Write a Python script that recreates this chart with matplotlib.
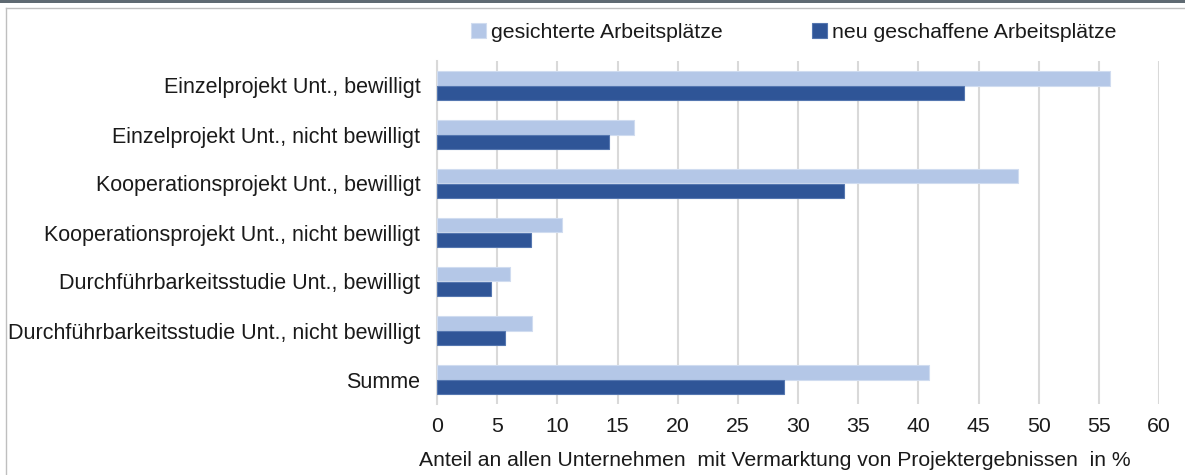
import matplotlib
matplotlib.use("Agg")
import matplotlib.pyplot as plt
import numpy as np
from matplotlib.patches import Rectangle
from matplotlib.lines import Line2D

categories = [
    "Einzelprojekt Unt., bewilligt",
    "Einzelprojekt Unt., nicht bewilligt",
    "Kooperationsprojekt Unt., bewilligt",
    "Kooperationsprojekt Unt., nicht bewilligt",
    "Durchführbarkeitsstudie Unt., bewilligt",
    "Durchführbarkeitsstudie Unt., nicht bewilligt",
    "Summe",
]
gesichert = [55.9, 16.4, 48.3, 10.4, 6.1, 7.9, 40.9]
neu = [43.8, 14.3, 33.8, 7.8, 4.5, 5.65, 28.8]
series_labels = ["gesichterte Arbeitsplätze", "neu geschaffene Arbeitsplätze"]
xticks = list(range(0, 61, 5))
xlabel = "Anteil an allen Unternehmen  mit Vermarktung von Projektergebnissen  in %"

plt.rcParams['font.family'] = ['Liberation Sans', 'DejaVu Sans']
light = "#B4C7E7"
dark = "#2F5597"
txt = "#1A1A1A"

fig = plt.figure(figsize=(11.85, 4.75), dpi=100)
ax = fig.add_axes([437/1185, 1-404/475, (1159-437)/1185, (404-61)/475])

y = np.arange(len(categories))
h = 0.29
ax.barh(y - h/2, gesichert, height=h, color=light, edgecolor="#D0DCF0", linewidth=0.8,
        label=series_labels[0], zorder=3)
ax.barh(y + h/2, neu, height=h, color=dark, edgecolor="#5577B0", linewidth=0.8,
        label=series_labels[1], zorder=3)

ax.set_xlim(0, 60)
ax.set_ylim(len(categories) - 0.5, -0.5)
ax.set_xticks(xticks)
ax.set_xticklabels([str(t) for t in xticks], fontsize=15.3, color=txt)
ax.set_yticks(y)
ax.set_yticklabels(categories, fontsize=15.5, color=txt)
ax.tick_params(axis='both', length=0)
ax.tick_params(axis='x', pad=9)
ax.tick_params(axis='y', pad=12)
ax.grid(axis='x', color="#D9D9D9", linewidth=1.5, zorder=0)
for s in ["top", "right", "bottom"]:
    ax.spines[s].set_visible(False)
ax.spines["left"].set_color("#D9D9D9")
ax.spines["left"].set_linewidth(1.5)
ax.set_xlabel(xlabel, fontsize=15.2, color=txt, labelpad=11)
ax.xaxis.set_label_coords((775 - 437) / (1159 - 437), -0.005, transform=None) if False else None
ax.xaxis.label.set_x((775 - 437) / (1159 - 437))

leg = fig.legend(loc="center", bbox_to_anchor=(794/1185, 1-32/475), ncol=2, frameon=False,
                 fontsize=15.3, handlelength=0.7, handleheight=0.7, handletextpad=0.25,
                 columnspacing=4.2, labelcolor=txt)

# frame decorations
fig.add_artist(Rectangle((0, 1-3/475), 1, 3/475, transform=fig.transFigure,
                         facecolor="#5F6A72", edgecolor="none"))
fig.add_artist(Line2D([6/1185, 6/1185], [0, 1-8/475], transform=fig.transFigure,
                      color="#BFBFBF", linewidth=1))
fig.add_artist(Line2D([6/1185, 1], [1-8/475, 1-8/475], transform=fig.transFigure,
                      color="#BFBFBF", linewidth=1))

fig.savefig("out.png", dpi=100)
